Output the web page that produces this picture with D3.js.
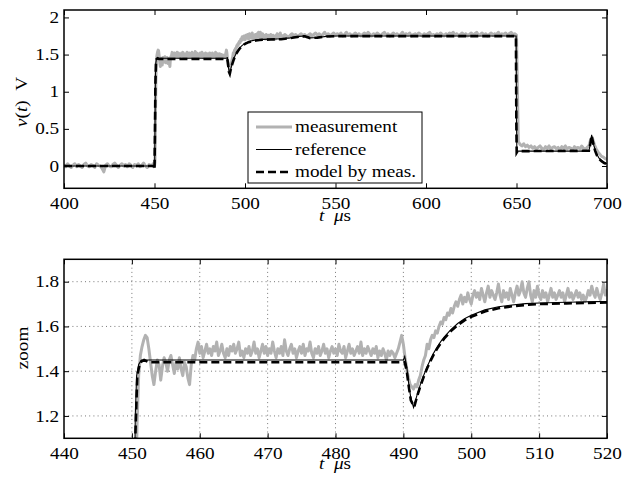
<!DOCTYPE html>
<html><head><meta charset="utf-8">
<script src="https://cdn.jsdelivr.net/npm/d3@7"></script>
<style>
body{margin:0;background:#fff}
</style>
</head><body>
<svg id="chart" width="622" height="479" font-family="'Liberation Serif','Times New Roman','DejaVu Serif',serif" font-size="16"></svg>
<script>
// ---------- DATA ----------
// measurement, sampled in three segments (start time, step in μs, values in V)
const measPreStart = 400, measPreStep = 1;
const measPre = [0.02,-0.01,0.03,0.00,-0.02,0.01,0.03,-0.01,0.02,0.00,
-0.02,0.02,0.04,0.00,-0.01,0.02,0.01,-0.02,0.03,0.01,
0.00,-0.03,-0.08,0.01,0.03,0.00,-0.01,0.02,0.04,0.01,
-0.02,0.01,0.03,0.00,0.02,-0.01,0.03,0.01,-0.02,0.02,
0.00,0.03,-0.01,0.01,0.04,0.00,-0.02,0.02,0.01];
const measMidStart = 449, measMidStep = 0.25;
const measMid = [
0.01,0.03,-0.01,0.02, 0.00,0.05,0.60,1.15, 1.38,1.47,1.51,1.54, 1.56,1.55,1.50,1.44,
1.38,1.34,1.40,1.45, 1.43,1.36,1.42,1.46, 1.44,1.40,1.45,1.47, 1.43,1.39,1.44,1.41,
1.46,1.41,1.38,1.44, 1.42,1.37,1.34,1.43, 1.47,1.45,1.50,1.53, 1.48,1.51,1.46,1.49,
1.52,1.48,1.50,1.47, 1.51,1.49,1.53,1.47, 1.49,1.52,1.48,1.46, 1.50,1.47,1.51,1.49,
1.52,1.48,1.50,1.53, 1.47,1.49,1.46,1.50, 1.48,1.51,1.47,1.49, 1.53,1.48,1.50,1.46,
1.49,1.52,1.48,1.51, 1.47,1.50,1.48,1.53, 1.49,1.46,1.50,1.48, 1.51,1.47,1.54,1.49,
1.47,1.50,1.52,1.48, 1.50,1.46,1.49,1.51, 1.48,1.52,1.47,1.50, 1.49,1.53,1.48,1.46,
1.50,1.48,1.51,1.47, 1.49,1.52,1.48,1.50, 1.46,1.49,1.51,1.48, 1.50,1.47,1.52,1.49,
1.48,1.51,1.46,1.49, 1.52,1.48,1.50,1.47, 1.49,1.51,1.48,1.53, 1.47,1.50,1.48,1.51,
1.49,1.47,1.50,1.48, 1.51,1.46,1.49,1.47, 1.50,1.48,1.45,1.49, 1.47,1.49,1.48,1.46,
1.48,1.50,1.53,1.56, 1.52,1.46,1.41,1.37, 1.34,1.33,1.32,1.34, 1.33,1.36,1.38,1.42,
1.45,1.47,1.52,1.50, 1.54,1.56,1.55,1.58, 1.57,1.60,1.62,1.61, 1.64,1.63,1.66,1.65,
1.68,1.66,1.69,1.71, 1.69,1.72,1.74,1.70, 1.73,1.71,1.75,1.72, 1.70,1.74,1.76,1.73,
1.75,1.72,1.77,1.74, 1.71,1.75,1.78,1.73, 1.76,1.74,1.72,1.75, 1.79,1.74,1.71,1.76,
1.73,1.75,1.72,1.77, 1.74,1.71,1.75,1.78, 1.74,1.76,1.80,1.75, 1.73,1.77,1.80,1.74,
1.71,1.76,1.73,1.78, 1.74,1.72,1.76,1.73, 1.75,1.71,1.74,1.77, 1.73,1.75,1.72,1.74,
1.76,1.73,1.75,1.71, 1.74,1.77,1.73,1.75, 1.72,1.74,1.76,1.73, 1.75,1.72,1.74,1.71,
1.73,1.76,1.74,1.78, 1.75,1.73,1.77,1.74, 1.72,1.75,1.79,1.74, 1.76];
const measPostStart = 521, measPostStep = 1;
const measPost = [
1.74,1.77,1.75,1.73,1.76,1.78,1.75,1.77,1.74,1.76,
1.78,1.75,1.77,1.74,1.76,1.78,1.75,1.77,1.79,1.76,
1.78,1.75,1.77,1.80,1.76,1.78,1.75,1.77,1.79,1.76,
1.78,1.76,1.79,1.75,1.77,1.80,1.76,1.78,1.75,1.77,
1.79,1.76,1.78,1.75,1.77,1.79,1.76,1.80,1.77,1.75,
1.78,1.76,1.79,1.77,1.75,1.78,1.80,1.76,1.78,1.75,
1.77,1.79,1.76,1.78,1.75,1.77,1.80,1.76,1.78,1.76,
1.79,1.75,1.77,1.78,1.76,1.79,1.77,1.75,1.78,1.76,
1.78,1.80,1.76,1.77,1.75,1.78,1.76,1.79,1.77,1.75,
1.78,1.76,1.79,1.77,1.80,1.76,1.78,1.75,1.77,1.79,
1.76,1.78,1.75,1.77,1.79,1.76,1.78,1.80,1.76,1.77,
1.79,1.76,1.78,1.75,1.77,1.79,1.76,1.78,1.77,1.80,
1.76,1.78,1.77,1.79,1.76,1.78,1.80,1.77,1.78,1.76,
0.33,0.29,0.27,0.30,0.26,0.28,0.25,0.27,0.24,0.26,
0.23,0.25,0.27,0.24,0.22,0.26,0.24,0.27,0.23,0.25,
0.26,0.23,0.25,0.22,0.26,0.24,0.27,0.23,0.25,0.24,
0.22,0.26,0.24,0.25,0.23,0.27,0.24,0.22,0.25,0.27,
0.36,0.37,0.29,0.23,0.19,0.16,0.13,0.12,0.10,0.09];

// reference signal [t (μs), v (V)]
const referenceCurve = [[400,0],[450.1,0],[450.3,0.60],[450.5,1.20],[450.7,1.38],[451.0,1.43],[451.4,1.45],
[490.0,1.45],[490.2,1.466],[490.5,1.42],[490.8,1.34],[491.1,1.28],[491.5,1.238],[492,1.292],[492.5,1.340],
[493,1.382],[493.5,1.420],[494,1.453],[494.5,1.483],[495,1.509],[495.5,1.532],[496,1.552],[497,1.586],
[498,1.613],[499,1.634],[500,1.650],[502,1.674],[504,1.688],[506,1.696],[508,1.702],[510,1.705],[514,1.708],
[520,1.712],[525,1.725],[530,1.745],[533,1.75],[536,1.725],[540,1.73],[545,1.745],[550,1.75],[649.8,1.75],
[650.0,0.6],[650.2,0.19],[650.6,0.20],[690,0.20],[690.8,0.30],[691.5,0.42],[692,0.36],[692.7,0.28],
[693.5,0.21],[694.5,0.15],[695.5,0.11],[697,0.07],[698.5,0.045],[700,0.03]];

// model identified from measurement [t (μs), v (V)]
const modelCurve = [[400,0],[449.9,0],[450.0,-0.05],[450.2,0.35],[450.5,1.10],[450.8,1.38],[451.2,1.44],
[451.8,1.45],[452.5,1.44],[490.2,1.44],[490.5,1.40],[490.8,1.33],[491.1,1.27],[491.6,1.24],[492,1.285],
[492.5,1.333],[493,1.375],[493.5,1.413],[494,1.446],[494.5,1.476],[495,1.502],[495.5,1.525],[496,1.545],
[497,1.579],[498,1.606],[499,1.627],[500,1.643],[502,1.667],[504,1.681],[506,1.690],[508,1.696],[510,1.700],
[514,1.703],[520,1.707],[525,1.722],[530,1.742],[533,1.747],[536,1.722],[540,1.728],[545,1.743],[550,1.748],
[649.7,1.748],[649.9,0.6],[650.1,0.18],[650.6,0.20],[690,0.205],[690.8,0.30],[691.5,0.41],[692,0.35],
[692.7,0.27],[693.5,0.20],[694.5,0.14],[695.5,0.10],[697,0.065],[698.5,0.04],[700,0.025]];

const topXTicks = [400,450,500,550,600,650,700];
const topYTicks = [0,0.5,1,1.5,2];
const topYLabels = ['0','0.5','1','1.5','2'];
const zoomXTicks = [440,450,460,470,480,490,500,510,520];
const zoomYTicks = [1.2,1.4,1.6,1.8];
const zoomYLabels = ['1.2','1.4','1.6','1.8'];
const legendLabels = ['measurement','reference','model by meas.'];

// ---------- BUILD ----------
const FONT = "'Liberation Serif','Times New Roman','DejaVu Serif',serif";
const measurement = [];
measPre.forEach((v,i)=>measurement.push([measPreStart+i*measPreStep, v]));
measMid.forEach((v,i)=>measurement.push([measMidStart+i*measMidStep, v]));
measPost.forEach((v,i)=>measurement.push([measPostStart+i*measPostStep, v]));

const svg = d3.select('#chart');
const SX = 1.2;

const panels = [
  {id:'top', left:64, right:607, top:10, bottom:188.3, xd:[400,700], yd:[-0.3,2.1],
   xt:topXTicks, yt:topYTicks, yl:topYLabels, grid:false},
  {id:'zoom', left:64, right:607, top:259.3, bottom:438.3, xd:[440,520], yd:[1.1,1.9],
   xt:zoomXTicks, yt:zoomYTicks, yl:zoomYLabels, grid:true}
];

panels.forEach(p=>{
  const x = d3.scaleLinear().domain(p.xd).range([p.left,p.right]);
  const y = d3.scaleLinear().domain(p.yd).range([p.bottom,p.top]);
  const g = svg.append('g');

  g.append('clipPath').attr('id','clip-'+p.id).append('rect')
    .attr('x',p.left).attr('y',p.top).attr('width',p.right-p.left).attr('height',p.bottom-p.top);

  if(p.grid){
    const gg = g.append('g').attr('stroke','#555').attr('stroke-width',0.8).attr('stroke-dasharray','1,3.2');
    p.xt.slice(1,-1).forEach(t=>gg.append('line').attr('x1',x(t)).attr('x2',x(t)).attr('y1',p.top).attr('y2',p.bottom));
    p.yt.forEach(t=>gg.append('line').attr('x1',p.left).attr('x2',p.right).attr('y1',y(t)).attr('y2',y(t)));
  }

  const plot = g.append('g').attr('clip-path','url(#clip-'+p.id+')');
  const line = d3.line().x(d=>x(d[0])).y(d=>y(d[1]));
  plot.append('path').datum(measurement).attr('d',line).attr('fill','none')
    .attr('stroke','#b2b2b2').attr('stroke-width',3).attr('stroke-linejoin','round');
  plot.append('path').datum(referenceCurve).attr('d',line).attr('fill','none')
    .attr('stroke','#000').attr('stroke-width',1.1);
  plot.append('path').datum(modelCurve).attr('d',line).attr('fill','none')
    .attr('stroke','#000').attr('stroke-width',2.6).attr('stroke-dasharray','8,4');

  // axes (ticks inward on all four sides)
  const xb = g.append('g').attr('transform',`translate(0,${p.bottom})`)
    .call(d3.axisBottom(x).tickValues(p.xt).tickSize(-5).tickPadding(9).tickFormat(d3.format('d')));
  const xtp = g.append('g').attr('transform',`translate(0,${p.top})`)
    .call(d3.axisTop(x).tickValues(p.xt).tickSize(-5).tickFormat(''));
  const yl = g.append('g').attr('transform',`translate(${p.left},0)`)
    .call(d3.axisLeft(y).tickValues(p.yt).tickSize(-5).tickFormat((d,i)=>p.yl[i]));
  const yr = g.append('g').attr('transform',`translate(${p.right},0)`)
    .call(d3.axisRight(y).tickValues(p.yt).tickSize(-5).tickFormat(''));
  [xb,xtp,yl,yr].forEach(a=>{
    a.select('.domain').remove();
    a.selectAll('line').attr('stroke','#000').attr('stroke-width',1);
    a.attr('font-family',FONT).attr('font-size',16);
    a.selectAll('text').attr('font-family',FONT).attr('font-size',16).attr('fill','#000');
  });
  xb.selectAll('text').attr('transform',`scale(${SX},1)`);
  yl.selectAll('text').attr('x',-4).attr('transform',`scale(${SX},1)`);

  g.append('rect').attr('x',p.left).attr('y',p.top).attr('width',p.right-p.left).attr('height',p.bottom-p.top)
    .attr('fill','none').attr('stroke','#000').attr('stroke-width',1.5);
});

function stext(x,y,anchor,rot){
  return svg.append('text')
    .attr('font-family',FONT).attr('font-size',16)
    .attr('transform',`translate(${x},${y})${rot?' rotate(-90)':''} scale(${SX},1)`)
    .attr('text-anchor',anchor);
}
// x labels
[[335,221],[335,469]].forEach(([x,y])=>{
  const t = stext(x,y,'middle');
  t.append('tspan').attr('font-style','italic').text('t');
  t.append('tspan').text('\u2002');
  t.append('tspan').attr('font-style','italic').text('μ');
  t.append('tspan').text('s');
});
// y labels
{
  const t = stext(27,102,'middle',true);
  t.append('tspan').attr('font-style','italic').text('v');
  t.append('tspan').text('(');
  t.append('tspan').attr('font-style','italic').text('t');
  t.append('tspan').text(')\u2002V');
}
stext(28,348,'middle',true).text('zoom');

// legend
const lg = svg.append('g');
lg.append('rect').attr('x',248).attr('y',112).attr('width',174).attr('height',71)
  .attr('fill','#fff').attr('stroke','#000').attr('stroke-width',1);
const legStyles = [
  {stroke:'#b2b2b2', w:3, dash:null},
  {stroke:'#000', w:1.1, dash:null},
  {stroke:'#000', w:2.6, dash:'8,4'}
];
const legRows = [127,149.5,172];
legendLabels.forEach((lab,i)=>{
  const s = legStyles[i];
  const l = lg.append('line').attr('x1',256).attr('x2',292).attr('y1',legRows[i]).attr('y2',legRows[i])
    .attr('stroke',s.stroke).attr('stroke-width',s.w);
  if(s.dash) l.attr('stroke-dasharray',s.dash);
  lg.append('text').attr('font-family',FONT).attr('font-size',16)
    .attr('transform',`translate(295,${legRows[i]+5}) scale(${SX},1)`).text(lab);
});
</script>
</body></html>
